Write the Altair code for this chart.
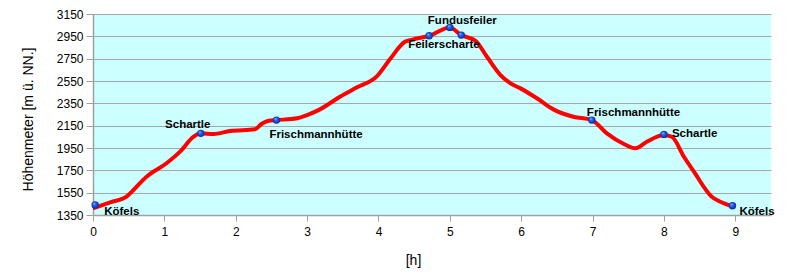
import altair as alt
import pandas as pd

# Elevation profile (hours, metres)
hours = [0.0, 0.25, 0.47, 0.52, 0.75, 1.03, 1.22, 1.41, 1.51, 1.69, 1.92, 2.27, 2.36, 2.46, 2.57,
         2.86, 3.0, 3.18, 3.46, 3.70, 3.98, 4.16, 4.37, 4.49, 4.71, 5.0, 5.16, 5.36, 5.52,
         5.71, 5.85, 5.99, 6.22, 6.45, 6.73, 6.99, 7.20, 7.44, 7.60, 7.76, 8.0, 8.11, 8.28,
         8.42, 8.67, 8.79, 8.96]
metres = [1410, 1465, 1514, 1544, 1693, 1813, 1917, 2051, 2081, 2075, 2102, 2117, 2165, 2194, 2200,
          2216, 2245, 2296, 2409, 2493, 2594, 2744, 2901, 2923, 2955, 3030, 2961, 2910, 2767,
          2603, 2529, 2484, 2395, 2296, 2230, 2200, 2081, 1986, 1947, 2006, 2066, 2051, 1872,
          1738, 1514, 1469, 1428]

# Waypoints
wp_names = ["Köfels", "Schartle", "Frischmannhütte", "Feilerscharte", "Fundusfeiler", "",
            "Frischmannhütte", "Schartle", "Köfels"]
wp_hours = [0.03, 1.51, 2.57, 4.71, 5.0, 5.16, 6.99, 8.0, 8.96]
wp_metres = [1440, 2081, 2200, 2955, 3030, 2961, 2200, 2072, 1433]

y_ticks = [1350, 1550, 1750, 1950, 2150, 2350, 2550, 2750, 2950, 3150]
x_ticks = [0, 1, 2, 3, 4, 5, 6, 7, 8, 9]

profile = pd.DataFrame({"h": hours, "m": metres})
points = pd.DataFrame({"name": wp_names, "h": wp_hours, "m": wp_metres})

FONT = "Liberation Sans, Arial"

x_scale = alt.Scale(domain=[0, 9.5], nice=False, zero=True)
y_scale = alt.Scale(domain=[1350, 3150], nice=False, zero=False)

x_axis = alt.Axis(values=x_ticks, tickCount=len(x_ticks), format="d", grid=False, title="[h]",
                  titleFont=FONT, titleFontSize=14,
                  titleFontWeight="normal", titleX=320, titleY=45, titleBaseline="middle",
                  labelFont=FONT, labelFontSize=12, labelColor="black", labelPadding=5,
                  labelFlush=False, labelOverlap=False,
                  tickColor="#A0A0A0", tickSize=6, domainColor="#A0A0A0", domainWidth=1.5)
y_axis = alt.Axis(values=y_ticks, tickCount=len(y_ticks), format="d", grid=True,
                  gridColor="#A8A8A8", gridWidth=1.2,
                  title="Höhenmeter [m ü. NN.]", titleFont=FONT, titleFontSize=14,
                  titleFontWeight="normal", titleAngle=270, titleX=-65, titleY=105,
                  titleAlign="center", titleBaseline="middle",
                  labelFont=FONT, labelFontSize=12, labelColor="black", labelPadding=3,
                  labelFlush=False, labelOverlap=False,
                  tickColor="#A0A0A0", tickSize=7, domainColor="#A0A0A0", domainWidth=1.5)

line = alt.Chart(profile).mark_line(color="#FF0000", strokeWidth=4, interpolate="monotone").encode(
    x=alt.X("h:Q", scale=x_scale, axis=x_axis),
    y=alt.Y("m:Q", scale=y_scale, axis=y_axis),
)

grad = alt.RadialGradient(
    gradient="radial", x1=0.35, y1=0.3, r1=0.0, x2=0.5, y2=0.5, r2=0.55,
    stops=[alt.GradientStop(offset=0, color="#9CC4FF"),
           alt.GradientStop(offset=0.35, color="#2A66E8"),
           alt.GradientStop(offset=1, color="#0020A0")],
)
markers = alt.Chart(points).mark_point(filled=True, fill=grad, size=55, opacity=1, shape="circle").encode(
    x=alt.X("h:Q", scale=x_scale, axis=x_axis),
    y=alt.Y("m:Q", scale=y_scale, axis=y_axis),
)

# label placement (align, dx, dy) per waypoint
label_style = [("left", 9, 7), ("center", -13, -8), ("left", -7, 15), ("left", -21, 9),
               ("left", -22, -6), ("left", 0, 0), ("left", -5, -7), ("left", 8, 0), ("left", 7, 6)]

layers = [line, markers]
for i, (al, dx, dy) in enumerate(label_style):
    if not wp_names[i]:
        continue
    t = alt.Chart(points.iloc[[i]]).mark_text(
        font=FONT, fontSize=11.5, fontWeight="bold", color="black",
        align=al, baseline="middle", dx=dx, dy=dy,
    ).encode(
        x=alt.X("h:Q", scale=x_scale, axis=x_axis),
        y=alt.Y("m:Q", scale=y_scale, axis=y_axis),
        text="name:N",
    )
    layers.append(t)

chart = alt.layer(*layers).properties(
    width=678, height=201,
    autosize=alt.AutoSizeParams(type="none"),
    padding={"left": 93, "top": 14, "right": 19, "bottom": 63},
    background="white",
).configure_view(fill="#CCFFFF", stroke=None)

chart.save("out.html", embed_options={"renderer": "svg", "actions": False})
